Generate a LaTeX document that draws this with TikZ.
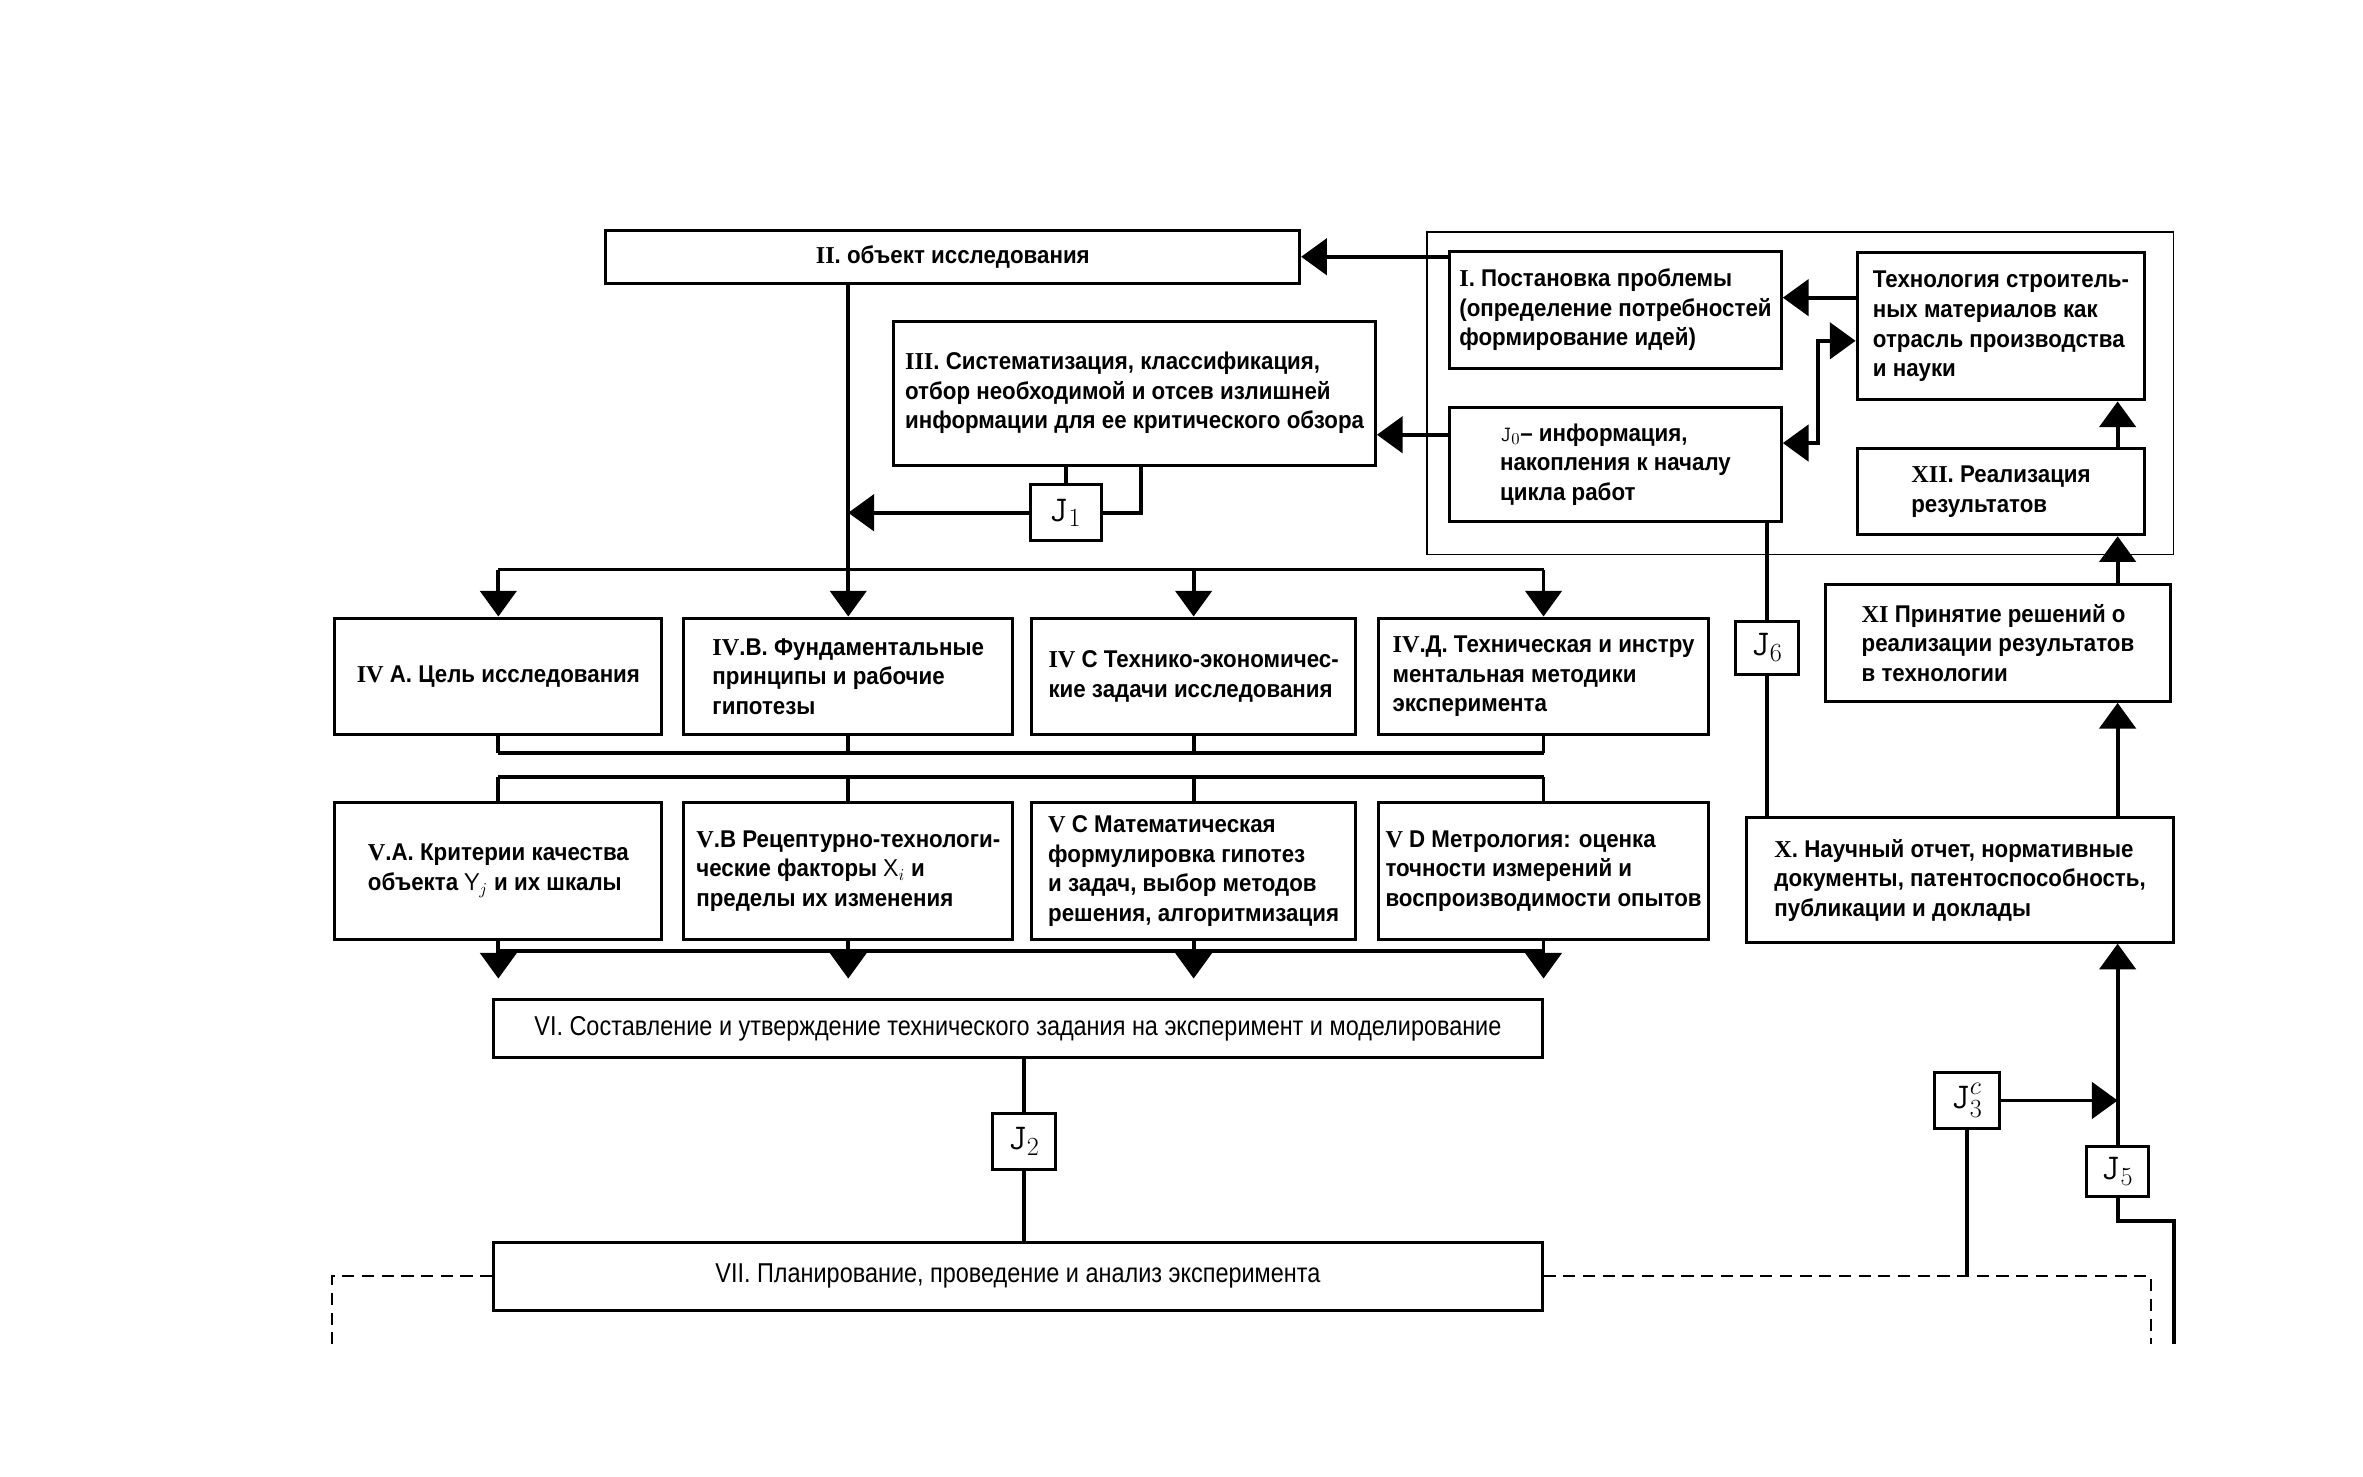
\documentclass[tikz,border=0pt]{standalone}
\usepackage{fontspec}
\setmainfont{Liberation Sans}
\newfontfamily\boxfont{Liberation Sans}[FakeStretch=0.92]
\newfontfamily\thinfont{Liberation Sans}[FakeStretch=0.86]
\newfontfamily\numfont{Liberation Serif}
\usepackage{tikz}
\usetikzlibrary{arrows.meta}

\newcommand{\rnum}[1]{{\numfont\bfseries #1}}
\newcommand{\jsym}{\ensuremath{\mathtt{J}}}

\begin{document}
\begin{tikzpicture}[
    x=1pt, y=-1pt,
    >={Triangle[length=17pt,width=24pt]},
    blk/.style={draw, line width=2pt, inner sep=0pt, align=left,
        font=\boxfont\bfseries\fontsize{16}{19.5}\selectfont},
    wide/.style={draw, line width=2pt, inner sep=0pt,
        font=\thinfont\fontsize{18}{20}\selectfont},
    info/.style={draw, line width=2pt, inner sep=0pt,
        font=\fontsize{24}{24}\selectfont},
    sz/.style 2 args={minimum width=#1, minimum height=#2},
    conn/.style={line width=2.5pt},
    dash line/.style={line width=1.5pt, dash pattern=on 8pt off 5pt}
]
    \useasboundingbox (0,0) rectangle (1560,975);

    % Node placement
    \node (II) [blk, sz={458}{35}] at (629,169.5) {\rnum{II}. объект исследования};
    \node (I) [blk, sz={219}{77}] at (1066.5,204.5) {\rnum{I}. Постановка проблемы\\(определение потребностей\\формирование идей)};
    \node (Tech) [blk, sz={190}{97}] at (1321,215.5) {Технология строитель-\\ных материалов как\\отрасль производства\\и науки};
    \node (J0) [blk, sz={219}{75}] at (1066.5,306.5) {{\Large\jsym}$_0$– информация,\\накопления к началу\\цикла работ};
    \node (XII) [blk, sz={190}{57}] at (1321,324.5) {\rnum{XII}. Реализация\\результатов};
    \node (III) [blk, sz={318}{95}] at (749,259.5) {\rnum{III}. Систематизация, классификация,\\отбор необходимой и отсев излишней\\информации для ее критического обзора};
    \node (J1) [info, sz={47}{37}] at (703.5,338.5) {\jsym$_1$};

    \node (ivA) [blk, sz={216}{77}] at (329,446.5) {\rnum{IV} А. Цель исследования};
    \node (ivB) [blk, sz={217}{77}] at (560,446.5) {\rnum{IV}.В. Фундаментальные\\принципы и рабочие\\гипотезы};
    \node (ivC) [blk, sz={214}{77}] at (788,446.5) {\rnum{IV} С Технико-экономичес-\\кие задачи исследования};
    \node (ivD) [blk, sz={218}{77}] at (1019,446.5) {\rnum{IV}.Д. Техническая и инстру\\ментальная методики\\эксперимента};

    \node (vA) [blk, sz={216}{90}] at (329,575) {\rnum{V}.А. Критерии качества\\объекта $\mathsf{Y}_j$ и их шкалы};
    \node (vB) [blk, sz={217}{90}] at (560,575) {\rnum{V}.В Рецептурно-технологи-\\ческие факторы $\mathsf{X}_i$ и\\пределы их изменения};
    \node (vC) [blk, sz={214}{90}] at (788,575) {\rnum{V} С Математическая\\формулировка гипотез\\и задач, выбор методов\\решения, алгоритмизация};
    \node (vD) [blk, sz={218}{90}] at (1019,575) {\rnum{V} D Метрология: оценка\\точности измерений и\\воспроизводимости опытов};

    \node (VI) [wide, sz={692}{38}] at (672,679) {VI. Составление и утверждение технического задания на эксперимент и моделирование};
    \node (J2) [info, sz={42}{37}] at (676,753.5) {\jsym$_2$};
    \node (VII) [wide, sz={692}{45}] at (672,842.5) {VII. Планирование, проведение и анализ эксперимента};

    \node (XI) [blk, sz={228}{77}] at (1319,424.5) {\rnum{XI} Принятие решений о\\реализации результатов\\в технологии};
    \node (X) [blk, sz={282}{82}] at (1294,581) {\rnum{X}. Научный отчет, нормативные\\документы, патентоспособность,\\публикации и доклады};
    \node (J6) [info, sz={41}{35}] at (1166.5,427.5) {\jsym$_6$};
    \node (J3c) [info, sz={43}{37}] at (1298.5,726.5) {\jsym$^{c}_{3}$};
    \node (J5) [info, sz={41}{33}] at (1398,773.5) {\jsym$_5$};

    % frame round the upper right group
    \draw[line width=1pt] (942,153) rectangle (1435,366);

    % helper points
    \coordinate (rcol) at (1398,0);
    \coordinate (tj) at (1200,225);
    \coordinate (j1r) at (753,307);
    \coordinate (busA) at (0,376);
    \coordinate (busB) at (0,497);
    \coordinate (busC) at (0,513);
    \coordinate (busD) at (0,628);
    \coordinate (tipD) at (0,646);
    \coordinate (r1) at (1435,806);
    \coordinate (r2) at (1435,887);
    \coordinate (dl1) at (219,842.5);
    \coordinate (dl2) at (219,887);
    \coordinate (dr1) at (1420,842.5);
    \coordinate (dr2) at (1420,887);

    % Arrows, upper right
    \draw[conn,->] (I.west |- II.east) -- (II.east);
    \draw[conn,->] ([yshift=19.5pt]J0.west) -- ([yshift=19.5pt]J0.west -| III.east);
    \draw[conn,->] ([yshift=8pt]I.east -| Tech.west) -- ([yshift=8pt]I.east);
    \draw[conn,<->] ([yshift=14pt]J0.east) -| (tj) -- (tj -| Tech.west);
    \draw[conn,->] (XII.north -| rcol) -- (Tech.south -| rcol);
    \draw[conn,->] (XI.north -| rcol) -- (XII.south -| rcol);
    \draw[conn,->] (X.north -| rcol) -- (XI.south -| rcol);
    \draw[conn] (J0.south -| J6) -- (J6.north);
    \draw[conn] (J6.south) -- (J6.south |- X.north);

    % J3, J5
    \draw[conn,->] (J5.north) -- (J5.north |- X.south);
    \draw[conn,->] (J3c.east) -- (J3c.east -| J5);
    \draw[conn] (J3c.south) -- (J3c.south |- VII.east);
    \draw[conn] (J5.south) |- (r1) -- (r2);

    % II, III and J1
    \draw[conn,->] (II.south -| ivB) -- (ivB.north);
    \draw[conn] (J1.north) -- (J1.north |- III.south);
    \draw[conn] (J1.east) -| (j1r);
    \draw[conn,->] (J1.west) -- (J1.west -| ivB);

    % buses between rows
    \draw[conn] (busA -| ivA) -- (busA -| ivD);
    \foreach \n in {ivA,ivC,ivD}
        \draw[conn,->] (busA -| \n) -- (\n.north);
    \foreach \n in {ivA,ivB,ivC,ivD}
        \draw[conn] (\n.south) -- (\n.south |- busB);
    \draw[conn] (busB -| ivA) -- (busB -| ivD);
    \draw[conn] (busC -| vA) -- (busC -| vD);
    \foreach \n in {vA,vB,vC,vD}
        \draw[conn] (busC -| \n) -- (\n.north);
    \foreach \n in {vA,vB,vC,vD} {
        \draw[conn] (\n.south) -- (\n.south |- busD);
        \draw[conn,->] (\n.south |- busD) -- (\n.south |- tipD);
    }
    \draw[conn] (busD -| vA) -- (busD -| vD);

    % VI, J2, VII
    \draw[conn] (VI.south -| J2) -- (J2.north);
    \draw[conn] (J2.south) -- (VII.north -| J2);
    \draw[dash line] (VII.west) -- (dl1) -- (dl2);
    \draw[dash line] (VII.east) -- (dr1) -- (dr2);

\end{tikzpicture}
\end{document}
